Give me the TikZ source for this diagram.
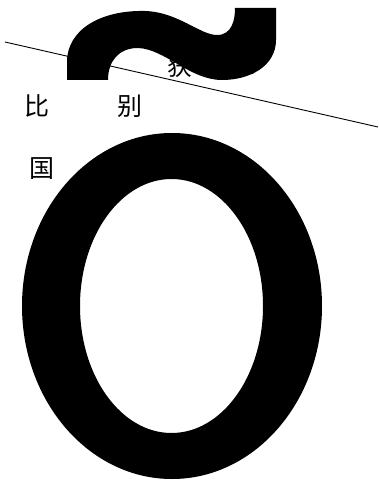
\documentclass[tikz,border=0pt]{standalone}
\usepackage{fontspec}
\newfontfamily\cjk{Noto Sans CJK SC}
\begin{document}
\begin{tikzpicture}[x=1pt,y=-1pt,
  cjktext/.style={font=\cjk\fontsize{25}{25}\selectfont, inner sep=0pt, text=black},
  glyph/.style={fill=black, draw=none}]
\useasboundingbox[fill=white] (0,0) rectangle (378,484);
% text
\node[cjktext] (bi) at (36.5,105.5) {比};
\node[cjktext] (bie) at (130,106) {别};
\node[cjktext] (guo) at (41.5,169) {国};
\node[cjktext] (huo) at (180,66) {获};
\node[cjktext] (de) at (247,63) {得};
% slanted line
\coordinate (l1) at (5,42);
\coordinate (l2) at (378,127);
\draw[line width=0.9pt] (l1) -- (l2);
% tilde
\fill[glyph] (67,80) -- (67,62) .. controls (67,30) and (100,10) .. (145,11)
  .. controls (178,12) and (200,35) .. (217,35)
  .. controls (232,35) and (235,20) .. (235,8) -- (276,8) -- (276,40)
  .. controls (276,66) and (250,80) .. (222,80)
  .. controls (190,80) and (165,49) .. (138,48)
  .. controls (118,48) and (108,62) .. (108,80) -- cycle;
% o
\fill[glyph, even odd rule] (172,306) ellipse [x radius=150, y radius=173]
  (171.5,306) ellipse [x radius=91.5, y radius=127];
\end{tikzpicture}
\end{document}
